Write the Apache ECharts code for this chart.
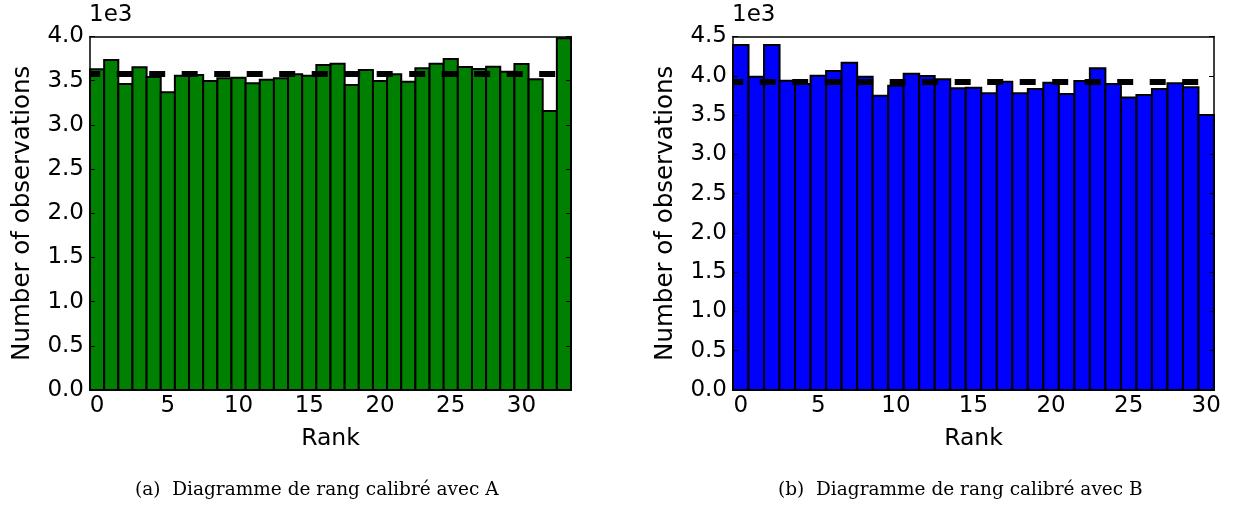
<!DOCTYPE html>
<html>
<head>
<meta charset="utf-8">
<script src="https://cdn.jsdelivr.net/npm/echarts@6/dist/echarts.min.js"></script>
<style>
  html, body { margin: 0; padding: 0; background: #fff; }
  #chart { width: 1234px; height: 518px; }
</style>
</head>
<body>
<div id="chart"></div>
<script>
// Rank histogram, panel (a): ranks 0..33
const ranksA = ['0','1','2','3','4','5','6','7','8','9','10','11','12','13','14','15','16',
                '17','18','19','20','21','22','23','24','25','26','27','28','29','30','31','32','33'];
const countsA = [3629, 3734, 3463, 3651, 3542, 3369, 3557, 3565, 3497, 3527, 3534, 3470,
                 3511, 3527, 3572, 3557, 3678, 3693, 3451, 3621, 3497, 3572, 3489, 3640,
                 3692, 3745, 3655, 3632, 3658, 3602, 3689, 3516, 3157, 3980];
const expectedA = 3576;
const yMaxA = 4000;

// Rank histogram, panel (b): ranks 0..30
const ranksB = ['0','1','2','3','4','5','6','7','8','9','10','11','12','13','14','15','16',
                '17','18','19','20','21','22','23','24','25','26','27','28','29','30'];
const countsB = [4392, 3989, 4392, 3938, 3896, 4001, 4061, 4167, 3989, 3747, 3874, 4027,
                 3997, 3955, 3841, 3849, 3777, 3925, 3777, 3832, 3912, 3768, 3934, 4095,
                 3896, 3722, 3756, 3832, 3904, 3854, 3501];
const expectedB = 3921;
const yMaxB = 4500;

const yStep = 500;
const xLabelStep = 5;

const captionA = '(a)  Diagramme de rang calibré avec A';
const captionB = '(b)  Diagramme de rang calibré avec B';

const FONT = 'DejaVu Sans';
const FS = 23;
const FRAME = { show: true, onZero: false, lineStyle: { color: '#000', width: 1.5 } };
const TICK = { color: '#000', width: 1 };
const everyFifth = (i) => i % xLabelStep === 0;

function xAxes(cats, gridIndex) {
  return [
    {
      type: 'category', gridIndex, position: 'bottom', data: cats, z: 5,
      boundaryGap: true,
      name: 'Rank', nameLocation: 'middle', nameGap: 37,
      nameTextStyle: { fontFamily: FONT, fontSize: 23.5, color: '#000' },
      axisLine: FRAME,
      axisTick: { inside: true, length: 5, alignWithLabel: true, interval: everyFifth, lineStyle: TICK },
      axisLabel: { interval: everyFifth, margin: 5, fontFamily: FONT, fontSize: FS, color: '#000' },
      splitLine: { show: false }
    },
    {
      type: 'category', gridIndex, position: 'top', data: cats, z: 5,
      boundaryGap: true,
      axisLine: FRAME,
      axisTick: { inside: true, length: 5, alignWithLabel: true, interval: everyFifth, lineStyle: TICK },
      axisLabel: { show: false },
      splitLine: { show: false }
    }
  ];
}

function yAxes(maxV, gridIndex) {
  return [
    {
      type: 'value', gridIndex, position: 'left', min: 0, max: maxV, interval: yStep, z: 5,
      name: 'Number of observations', nameLocation: 'middle', nameGap: 55,
      nameTextStyle: { fontFamily: FONT, fontSize: 24.5, color: '#000' },
      axisLine: FRAME,
      axisTick: { show: true, inside: true, length: 5, lineStyle: TICK },
      axisLabel: { margin: 6, fontFamily: FONT, fontSize: FS, color: '#000',
                   formatter: (v) => (v / 1000).toFixed(1) },
      splitLine: { show: false }
    },
    {
      type: 'value', gridIndex, position: 'right', min: 0, max: maxV, interval: yStep, z: 5,
      axisLine: FRAME,
      axisTick: { show: true, inside: true, length: 5, lineStyle: TICK },
      axisLabel: { show: false },
      splitLine: { show: false }
    }
  ];
}

// Histogram bars: each bar fills its whole category band, edged in black
function histSeries(values, expected, color, xi, yi) {
  return {
    type: 'custom', xAxisIndex: xi, yAxisIndex: yi,
    data: values.map((v, i) => [i, v]),
    encode: { x: 0, y: 1 },
    animation: false,
    renderItem: (params, api) => {
      const top = api.coord([api.value(0), api.value(1)]);
      const base = api.coord([api.value(0), 0]);
      const w = api.size([1, 0])[0];
      return {
        type: 'rect',
        shape: { x: top[0] - w / 2, y: top[1], width: w, height: base[1] - top[1] },
        style: { fill: color, stroke: '#000', lineWidth: 2 }
      };
    },
    markLine: {
      silent: true, symbol: ['none', 'none'], label: { show: false },
      lineStyle: { color: '#000', width: 6, type: [16, 16.5], dashOffset: 5.8, cap: 'butt' },
      emphasis: { disabled: true },
      data: [{ yAxis: expected }]
    }
  };
}

const chart = echarts.init(document.getElementById('chart'), null, { renderer: 'canvas' });
chart.setOption({
  backgroundColor: '#fff',
  animation: false,
  grid: [
    { left: 90, right: 663, top: 36.5, bottom: 128 },
    { left: 733, right: 20, top: 36.5, bottom: 128 }
  ],
  xAxis: [...xAxes(ranksA, 0), ...xAxes(ranksB, 1)],
  yAxis: [...yAxes(yMaxA, 0), ...yAxes(yMaxB, 1)],
  series: [
    histSeries(countsA, expectedA, '#008000', 0, 0),
    histSeries(countsB, expectedB, '#0000ff', 2, 2)
  ],
  graphic: [
    { type: 'text', left: 89, top: 4,
      style: { text: '1e3', font: '23px "DejaVu Sans"', fill: '#000' } },
    { type: 'text', left: 732, top: 4,
      style: { text: '1e3', font: '23px "DejaVu Sans"', fill: '#000' } },
    { type: 'text', left: 135, top: 481,
      style: { text: captionA, font: '18.5px "DejaVu Serif"', fill: '#000' } },
    { type: 'text', left: 778, top: 481,
      style: { text: captionB, font: '18.5px "DejaVu Serif"', fill: '#000' } }
  ]
});
</script>
</body>
</html>
